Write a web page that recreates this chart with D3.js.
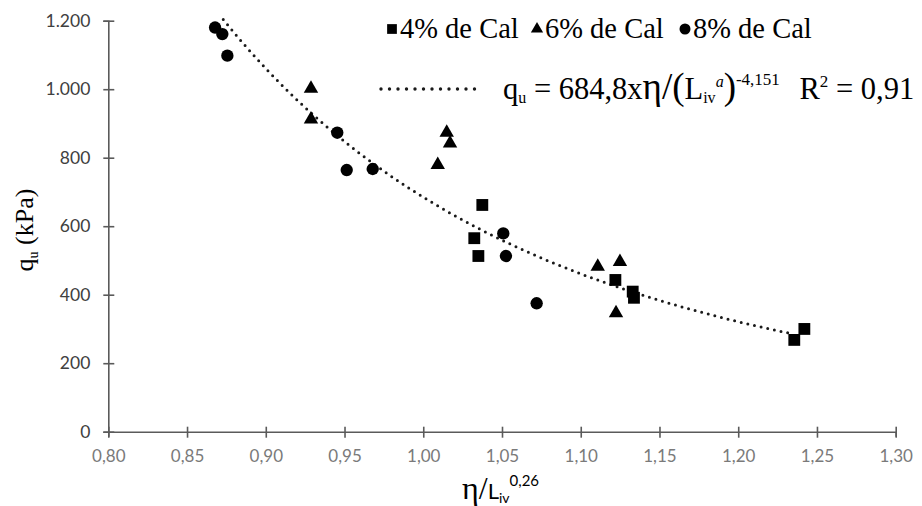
<!DOCTYPE html>
<html>
<head>
<meta charset="utf-8">
<script src="https://cdn.jsdelivr.net/npm/d3@7"></script>
<style>
  html, body { margin: 0; padding: 0; background: #fff; }
  svg { display: block; }
</style>
</head>
<body>
<svg id="chart" width="922" height="506"></svg>
<script>
// x: η/Liv^0,26 ; y: qu (kPa)
const cal4X = [1.0375, 1.0324, 1.0350, 1.1220, 1.1330, 1.1338, 1.2356, 1.2420];
const cal4Y = [662, 565, 513, 443, 409, 391, 268, 300];

const cal6X = [0.9287, 0.9287, 1.0149, 1.0170, 1.0092, 1.1108, 1.1249, 1.1224];
const cal6Y = [1002, 912, 873, 842, 779, 482, 496, 346];

const cal8X = [0.8678, 0.8724, 0.8756, 0.9454, 0.9514, 0.9679, 1.0508, 1.0525, 1.0720];
const cal8Y = [1180, 1161, 1098, 873, 764, 767, 579, 513, 375];

// Power-law fit: qu = 684,8 · x^-4,151  (R² = 0,91)
const fitA = 684.8;
const fitB = -4.151;
const fitRange = [0.873, 1.232];

const xTicks = [0.80, 0.85, 0.90, 0.95, 1.00, 1.05, 1.10, 1.15, 1.20, 1.25, 1.30];
const yTicks = [0, 200, 400, 600, 800, 1000, 1200];

const svg = d3.select("#chart");
const x = d3.scaleLinear().domain([0.80, 1.30]).range([108.3, 895.7]);
const y = d3.scaleLinear().domain([0, 1200]).range([431.7, 20.7]);

const axisColor = "#5a5a5a";
const fmtX = d => d.toFixed(2).replace(".", ",");
const fmtY = d => d3.format(",")(d).replace(",", ".");

// y axis
const gy = svg.append("g").attr("transform", `translate(${x(0.80)},0)`)
  .call(d3.axisLeft(y).tickValues(yTicks).tickSize(5).tickFormat(fmtY).tickPadding(13));
gy.select(".domain").attr("stroke", axisColor).attr("stroke-width", 1.6);
gy.selectAll(".tick line").attr("stroke", axisColor).attr("stroke-width", 1.6).attr("x2", 6).attr("x1", -5);
gy.selectAll(".tick text").attr("fill", "#404040").style("font-family", "Lato, sans-serif").style("font-size", "17.5px");

// x axis
const gx = svg.append("g").attr("transform", `translate(0,${y(0)})`)
  .call(d3.axisBottom(x).tickValues(xTicks).tickSize(5).tickFormat(fmtX).tickPadding(13));
gx.select(".domain").attr("stroke", axisColor).attr("stroke-width", 1.6);
gx.selectAll(".tick line").attr("stroke", axisColor).attr("stroke-width", 1.6).attr("y1", -5).attr("y2", 6);
gx.selectAll(".tick text").attr("fill", "#7a7a7a").style("font-family", "Lato, sans-serif").style("font-size", "17px");

// fitted curve (dotted)
const curvePts = d3.range(0, 201).map(i => {
  const xv = fitRange[0] + (fitRange[1] - fitRange[0]) * i / 200;
  return [xv, fitA * Math.pow(xv, fitB)];
});
svg.append("path")
  .datum(curvePts)
  .attr("d", d3.line().x(d => x(d[0])).y(d => y(d[1])))
  .attr("fill", "none").attr("stroke", "#1a1a1a")
  .attr("stroke-width", 3).attr("stroke-linecap", "round")
  .attr("stroke-dasharray", "0 6.8");

const sym = (type, size) => d3.symbol().type(type).size(size);

// 4% de Cal: squares
svg.append("g").selectAll("path").data(cal4X.map((v, i) => [v, cal4Y[i]])).join("path")
  .attr("transform", d => `translate(${x(d[0])},${y(d[1])})`)
  .attr("d", sym(d3.symbolSquare, 140)).attr("fill", "#000");

// 6% de Cal: triangles
svg.append("g").selectAll("path").data(cal6X.map((v, i) => [v, cal6Y[i]])).join("path")
  .attr("transform", d => `translate(${x(d[0])},${y(d[1])})`)
  .attr("d", sym(d3.symbolTriangle, 90)).attr("fill", "#000");

// 8% de Cal: circles
svg.append("g").selectAll("path").data(cal8X.map((v, i) => [v, cal8Y[i]])).join("path")
  .attr("transform", d => `translate(${x(d[0])},${y(d[1])})`)
  .attr("d", sym(d3.symbolCircle, 120)).attr("fill", "#000");

// legend
const serif = "'Liberation Serif', 'Times New Roman', serif";
const leg = svg.append("g").style("font-family", serif).style("font-size", "28.5px").attr("fill", "#000");
const legendItems = [
  { type: d3.symbolSquare, size: 95, sx: 392, tx: 400, label: "4% de Cal" },
  { type: d3.symbolTriangle, size: 65, sx: 537, tx: 545, label: "6% de Cal" },
  { type: d3.symbolCircle, size: 95, sx: 685, tx: 693, label: "8% de Cal" }
];
legendItems.forEach(it => {
  leg.append("path").attr("transform", `translate(${it.sx},29)`).attr("d", sym(it.type, it.size)).attr("fill", "#000");
  leg.append("text").attr("x", it.tx).attr("y", 38).text(it.label);
});

// equation line sample
svg.append("line")
  .attr("x1", 381).attr("x2", 475).attr("y1", 89).attr("y2", 89)
  .attr("stroke", "#1a1a1a").attr("stroke-width", 3.4)
  .attr("stroke-linecap", "round").attr("stroke-dasharray", "0 8.5");

const eq = svg.append("text").attr("x", 503).attr("y", 99)
  .style("font-family", serif).style("font-size", "30.5px").attr("fill", "#000");
eq.append("tspan").text("q");
eq.append("tspan").attr("dy", 4).style("font-size", "16px").text("u");
eq.append("tspan").attr("dy", -4).text(" = 684,8x");
eq.append("tspan").style("font-size", "37px").text("η/(");
eq.append("tspan").text("L");
eq.append("tspan").attr("dy", 4).style("font-size", "16px").text("iv");
eq.append("tspan").attr("dy", -16).style("font-size", "16px").style("font-style", "italic").text("a");
eq.append("tspan").attr("dy", 12).style("font-size", "37px").text(")");
eq.append("tspan").attr("dy", -14).style("font-size", "17px").text("-4,151");
eq.append("tspan").attr("dy", 14).attr("dx", 12).text(" R");
eq.append("tspan").attr("dy", -12).style("font-size", "17px").text("2");
eq.append("tspan").attr("dy", 12).text(" = 0,91");

// y axis title
const yt = svg.append("text")
  .attr("transform", "translate(33,230) rotate(-90)")
  .attr("text-anchor", "middle")
  .style("font-family", serif).style("font-size", "26px").attr("fill", "#000");
yt.append("tspan").text("q");
yt.append("tspan").attr("dy", 5).style("font-size", "14px").text("u");
yt.append("tspan").attr("dy", -5).text(" (kPa)");

// x axis title
const xt = svg.append("text").attr("x", 462).attr("y", 499).attr("fill", "#000");
xt.append("tspan").style("font-family", serif).style("font-size", "32px").text("η/");
xt.append("tspan").style("font-family", "Lato, sans-serif").style("font-size", "22px").text("L");
xt.append("tspan").attr("dy", 4).style("font-family", "Lato, sans-serif").style("font-size", "14px").text("iv");
xt.append("tspan").attr("dy", -17).style("font-family", "Lato, sans-serif").style("font-size", "15px").text("0,26");
</script>
</body>
</html>
